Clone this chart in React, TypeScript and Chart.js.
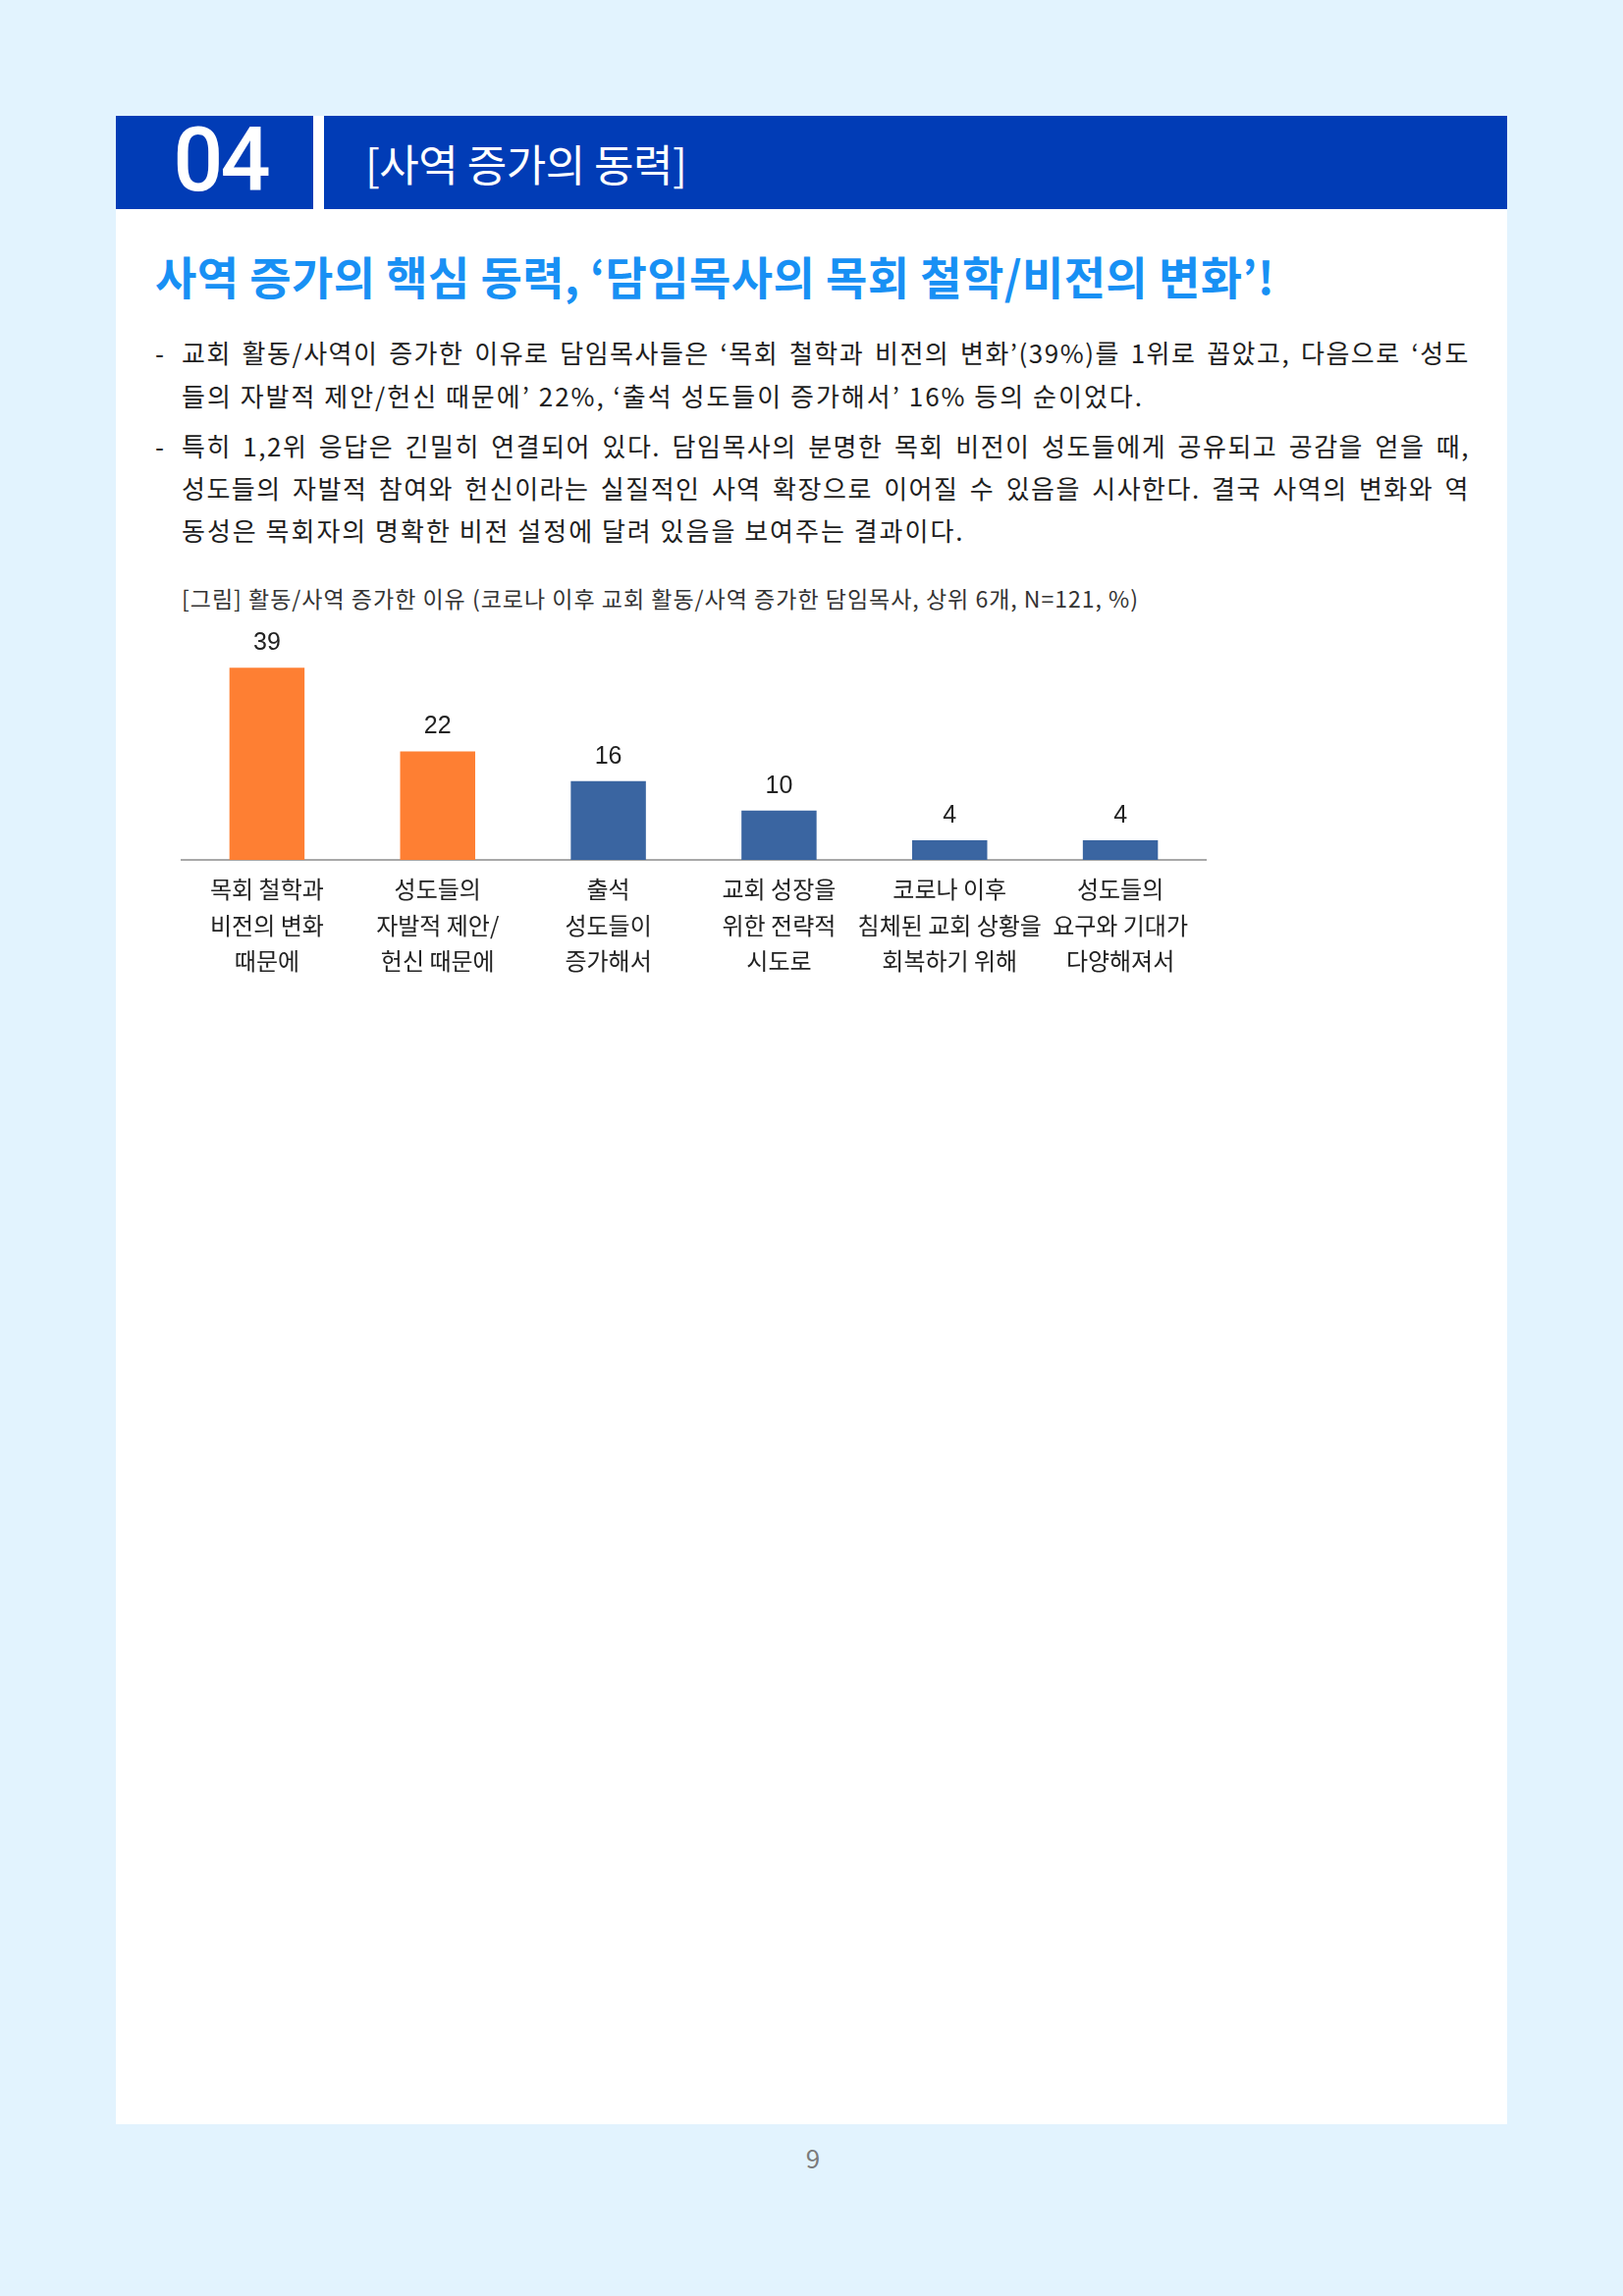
import { useEffect, useRef } from 'react'
import { Chart, registerables } from 'chart.js'
Chart.register(...registerables)

// 활동/사역 증가한 이유 (상위 6개, %)
const categories = [
  ['목회 철학과', '비전의 변화', '때문에'],
  ['성도들의', '자발적 제안/', '헌신 때문에'],
  ['출석', '성도들이', '증가해서'],
  ['교회 성장을', '위한 전략적', '시도로'],
  ['코로나 이후', '침체된 교회 상황을', '회복하기 위해'],
  ['성도들의', '요구와 기대가', '다양해져서'],
]
const values = [39, 22, 16, 10, 4, 4]

const ORANGE = '#FE7F33'
const BLUE = '#3A65A1'
const KR = '"Noto Sans CJK KR", "Noto Sans", sans-serif'

const barValues = {
  id: 'barValues',
  afterDatasetsDraw(chart: any) {
    const ctx = chart.ctx
    const meta = chart.getDatasetMeta(0)
    ctx.save()
    ctx.font = '25px "Liberation Sans", Arial, sans-serif'
    ctx.fillStyle = '#222'
    ctx.textAlign = 'center'
    ctx.textBaseline = 'middle'
    meta.data.forEach((bar: any, i: number) => ctx.fillText(String(values[i]), bar.x, bar.y - 25))
    ctx.restore()
  },
}

function ReasonChart() {
  const ref = useRef<HTMLCanvasElement>(null)

  useEffect(() => {
    if (!ref.current) return
    const chart = new Chart(ref.current, {
      type: 'bar',
      data: {
        labels: categories,
        datasets: [{
          data: values,
          backgroundColor: values.map((_, i) => (i < 2 ? ORANGE : BLUE)),
          barPercentage: 0.44,
          categoryPercentage: 1,
        }],
      },
      options: {
        animation: false,
        responsive: true, maintainAspectRatio: false,
        layout: { padding: { left: 15, right: 22, top: 20, bottom: 14 } },
        plugins: { legend: { display: false }, tooltip: { enabled: false } },
        scales: {
          x: {
            grid: { display: false, drawTicks: false },
            border: { display: true, color: '#A8A8A8', width: 2 },
            ticks: {
              color: '#222', padding: 12, maxRotation: 0, autoSkip: false,
              font: { size: 24, family: KR, lineHeight: 36.5 / 24 },
            },
            afterFit: (s: any) => { s.height = 130 },
          },
          y: { display: false, min: 0, max: 47 },
        },
      },
      plugins: [barValues],
    })
    return () => chart.destroy()
  }, [])

  return (
    <div style={{ position: 'absolute', left: 170, top: 620, width: 1080, height: 400 }}>
      <canvas ref={ref} />
    </div>
  )
}

function Line({ top, text, last }: { top: number; text: string; last?: boolean }) {
  return (
    <div style={{
      position: 'absolute', left: 185, width: 1312, top: top - 20, height: 40, lineHeight: '40px',
      fontSize: 26, letterSpacing: last ? 2 : 1.5, color: '#1e1e1e', whiteSpace: 'nowrap',
      textAlign: 'justify', textAlignLast: last ? 'left' : 'justify',
    }}>{text}</div>
  )
}

function Dash({ top }: { top: number }) {
  return <div style={{ position: 'absolute', left: 158, top: top - 20, lineHeight: '40px', fontSize: 26, color: '#1e1e1e' }}>-</div>
}

export default function App() {
  return (
    <div style={{ position: 'absolute', left: 0, top: 0, width: 1653, height: 2339, background: '#E2F3FE', fontFamily: KR, overflow: 'hidden' }}>
      <div style={{ position: 'absolute', left: 118, top: 118, width: 1417, height: 2046, background: '#fff' }} />
      <div style={{ position: 'absolute', left: 118, top: 118, width: 201, height: 95, background: '#013CB6' }} />
      <div style={{ position: 'absolute', left: 330, top: 118, width: 1205, height: 95, background: '#013CB6' }} />
      <div style={{ position: 'absolute', left: 124, top: 116, width: 201, lineHeight: '96px', textAlign: 'center', fontFamily: 'Roboto, sans-serif', fontSize: 90, fontWeight: 500, letterSpacing: -3, color: '#fff' }}>04</div>
      <div style={{ position: 'absolute', left: 372, top: 141, lineHeight: '50px', fontSize: 44, color: '#fff', letterSpacing: -0.5 }}>[사역 증가의 동력]</div>

      <div style={{ position: 'absolute', left: 158, top: 251, lineHeight: '58px', fontSize: 46, fontWeight: 700, color: '#1890F4', letterSpacing: 0.4, whiteSpace: 'nowrap' }}>
        사역 증가의 핵심 동력, ‘담임목사의 목회 철학/비전의 변화’!
      </div>

      <Dash top={359} />
      <Line top={359} text="교회 활동/사역이 증가한 이유로 담임목사들은 ‘목회 철학과 비전의 변화’(39%)를 1위로 꼽았고, 다음으로 ‘성도" />
      <Line top={403} last text="들의 자발적 제안/헌신 때문에’ 22%, ‘출석 성도들이 증가해서’ 16% 등의 순이었다." />
      <Dash top={454} />
      <Line top={454} text="특히 1,2위 응답은 긴밀히 연결되어 있다. 담임목사의 분명한 목회 비전이 성도들에게 공유되고 공감을 얻을 때," />
      <Line top={497} text="성도들의 자발적 참여와 헌신이라는 실질적인 사역 확장으로 이어질 수 있음을 시사한다. 결국 사역의 변화와 역" />
      <Line top={540} last text="동성은 목회자의 명확한 비전 설정에 달려 있음을 보여주는 결과이다." />

      <div style={{ position: 'absolute', left: 185, top: 594, lineHeight: '30px', fontSize: 23, letterSpacing: 1, color: '#333', whiteSpace: 'nowrap' }}>
        [그림] 활동/사역 증가한 이유 (코로나 이후 교회 활동/사역 증가한 담임목사, 상위 6개, N=121, %)
      </div>

      <ReasonChart />

      <div style={{ position: 'absolute', left: 778, width: 100, top: 2183, lineHeight: '30px', textAlign: 'center', fontSize: 26, color: '#7a7a7a' }}>9</div>
    </div>
  )
}
